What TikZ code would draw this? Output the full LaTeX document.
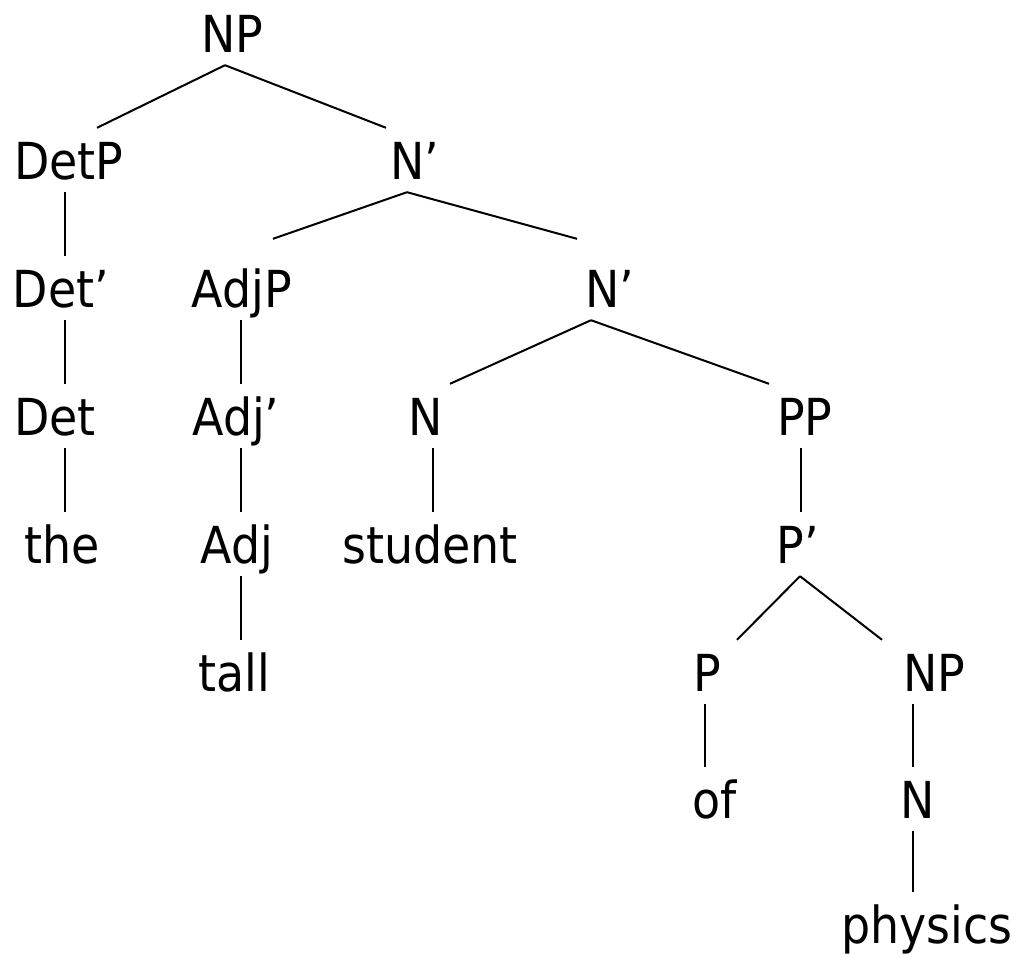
\documentclass[tikz,border=0pt]{standalone}
\usepackage{fontspec}
\setmainfont{DejaVu Sans Condensed}
\usepackage{tikz}
\tikzstyle{cat} = [inner xsep=0pt, inner ysep=13pt, text height=38pt, text depth=0pt, anchor=base, font=\fontsize{51}{60}\selectfont]
\tikzstyle{branch} = [draw, line width=2pt]

\begin{document}
\begin{tikzpicture}[x=1pt, y=-1pt]
        \useasboundingbox (0,0) rectangle (1019,956);

        % categories, row by row
        \node (NP) [cat] at (232,52) {NP};

        \node (DetP) [cat] at (69,179) {DetP};
        \node (Nbar) [cat] at (415,179) {N’};

        \node (Detbar) [cat] at (61,307) {Det’};
        \node (AdjP) [cat] at (242,307) {AdjP};
        \node (Nbarb) [cat] at (610,307) {N’};

        \node (Det) [cat] at (55,435) {Det};
        \node (Adjbar) [cat] at (236,435) {Adj’};
        \node (N) [cat] at (426,435) {N};
        \node (PP) [cat] at (805,435) {PP};

        \node (the) [cat] at (62,563) {the};
        \node (Adj) [cat] at (237,563) {Adj};
        \node (student) [cat] at (430,563) {student};
        \node (Pbar) [cat] at (798,563) {P’};

        \node (tall) [cat] at (234,691) {tall};
        \node (P) [cat] at (707,691) {P};
        \node (NPb) [cat] at (934,691) {NP};

        \node (of) [cat] at (715,818) {of};
        \node (Nb) [cat] at (918,818) {N};

        \node (physics) [cat] at (927,943) {physics};

        % branches
        \draw[branch] ([xshift=-7]NP.south) -- ([xshift=28]DetP.north);
        \draw[branch] ([xshift=-7]NP.south) -- ([xshift=-29]Nbar.north);

        \draw[branch] ([xshift=-4]DetP.south) -- ([xshift=4]Detbar.north);
        \draw[branch] ([xshift=-8]Nbar.south) -- ([xshift=31, yshift=17]AdjP.north);
        \draw[branch] ([xshift=-8]Nbar.south) -- ([xshift=-33, yshift=17]Nbarb.north);

        \draw[branch] ([xshift=4]Detbar.south) -- ([xshift=10]Det.north);
        \draw[branch] ([xshift=-1]AdjP.south) -- ([xshift=5]Adjbar.north);
        \draw[branch] ([xshift=-19]Nbarb.south) -- ([xshift=24]N.north);
        \draw[branch] ([xshift=-19]Nbarb.south) -- ([xshift=-36]PP.north);

        \draw[branch] ([xshift=10]Det.south) -- ([xshift=3]the.north);
        \draw[branch] ([xshift=5]Adjbar.south) -- ([xshift=4]Adj.north);
        \draw[branch] ([xshift=7]N.south) -- ([xshift=3]student.north);
        \draw[branch] ([xshift=-4]PP.south) -- ([xshift=3]Pbar.north);

        \draw[branch] ([xshift=4]Adj.south) -- ([xshift=7]tall.north);
        \draw[branch] ([xshift=2]Pbar.south) -- ([xshift=30]P.north);
        \draw[branch] ([xshift=2]Pbar.south) -- ([xshift=-52]NPb.north);

        \draw[branch] ([xshift=-2]P.south) -- ([xshift=-10]of.north);
        \draw[branch] ([xshift=-21]NPb.south) -- ([xshift=-5]Nb.north);

        \draw[branch] ([xshift=-5]Nb.south) -- ([xshift=-14]physics.north);

    \end{tikzpicture}
\end{document}
